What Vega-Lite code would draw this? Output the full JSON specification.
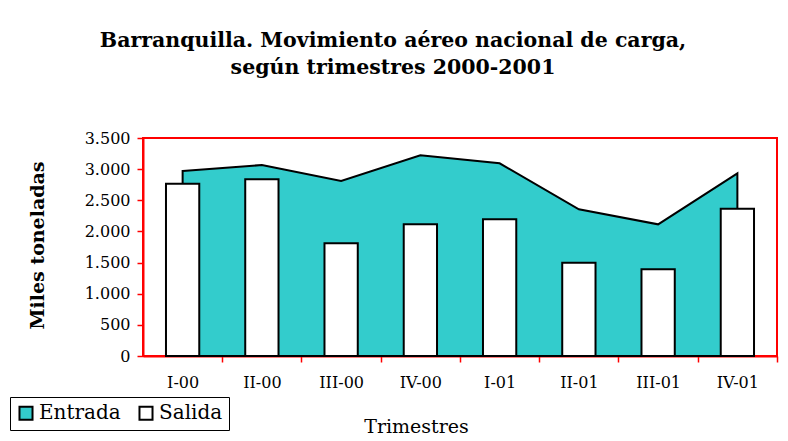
{
  "$schema": "https://vega.github.io/schema/vega-lite/v6.json",
  "autosize": {"type": "none"},
  "width": 634,
  "height": 218,
  "padding": {"left": 143, "top": 138, "right": 11, "bottom": 85},
  "background": "white",
  "title": {
    "text": ["Barranquilla. Movimiento aéreo nacional de carga,", "según trimestres 2000-2001"],
    "font": "DejaVu Serif",
    "fontSize": 20.5,
    "fontWeight": "bold",
    "color": "black",
    "lineHeight": 27,
    "anchor": "middle",
    "dx": -67,
    "offset": 52
  },
  "data": {
    "values": [
      {"trimestre": "I-00", "serie": "Entrada", "valor": 2970},
      {"trimestre": "II-00", "serie": "Entrada", "valor": 3066},
      {"trimestre": "III-00", "serie": "Entrada", "valor": 2810},
      {"trimestre": "IV-00", "serie": "Entrada", "valor": 3222},
      {"trimestre": "I-01", "serie": "Entrada", "valor": 3094},
      {"trimestre": "II-01", "serie": "Entrada", "valor": 2355},
      {"trimestre": "III-01", "serie": "Entrada", "valor": 2114},
      {"trimestre": "IV-01", "serie": "Entrada", "valor": 2933},
      {"trimestre": "I-00", "serie": "Salida", "valor": 2767},
      {"trimestre": "II-00", "serie": "Salida", "valor": 2837},
      {"trimestre": "III-00", "serie": "Salida", "valor": 1809},
      {"trimestre": "IV-00", "serie": "Salida", "valor": 2114},
      {"trimestre": "I-01", "serie": "Salida", "valor": 2194},
      {"trimestre": "II-01", "serie": "Salida", "valor": 1498},
      {"trimestre": "III-01", "serie": "Salida", "valor": 1391},
      {"trimestre": "IV-01", "serie": "Salida", "valor": 2365}
    ]
  },
  "encoding": {
    "x": {
      "field": "trimestre",
      "type": "nominal",
      "sort": null,
      "bandPosition": 0.5,
      "scale": {"paddingInner": 0.58, "paddingOuter": 0.29},
      "axis": {
        "title": "Trimestres",
        "titleFont": "DejaVu Serif",
        "titleFontSize": 19,
        "titleFontWeight": "normal",
        "titleColor": "black",
        "titleX": 273,
        "titleY": 76,
        "titleBaseline": "alphabetic",
        "titleAnchor": null,
        "labelAngle": 0,
        "labelFont": "DejaVu Serif",
        "labelFontSize": 16,
        "labelColor": "black",
        "labelPadding": 12,
        "labelOffset": -39.6,
        "domainColor": "red",
        "domainWidth": 2,
        "tickColor": "red",
        "tickWidth": 1.5,
        "tickSize": 6,
        "tickOffset": 39.6
      }
    },
    "y": {
      "field": "valor",
      "type": "quantitative",
      "scale": {"domain": [0, 3500], "nice": false},
      "axis": {
        "title": "Miles toneladas",
        "titleFont": "DejaVu Serif",
        "titleFontSize": 19,
        "titleFontWeight": "bold",
        "titleColor": "black",
        "titleX": -106,
        "titleY": 107,
        "titleAnchor": null,
        "titleBaseline": "middle",
        "values": [0, 500, 1000, 1500, 2000, 2500, 3000, 3500],
        "labelExpr": "replace(format(datum.value, ','), ',', '.')",
        "labelFont": "DejaVu Serif",
        "labelFontSize": 16,
        "labelColor": "black",
        "labelPadding": 7,
        "grid": false,
        "domainColor": "red",
        "domainWidth": 2,
        "tickColor": "red",
        "tickWidth": 1.5,
        "tickSize": 6
      }
    },
    "color": {
      "field": "serie",
      "type": "nominal",
      "scale": {"domain": ["Entrada", "Salida"], "range": ["#33CCCC", "#FFFFFF"]},
      "legend": {
        "title": null,
        "orient": "none",
        "legendX": -133,
        "legendY": 259,
        "direction": "horizontal",
        "strokeColor": "black",
        "fillColor": "white",
        "padding": 6,
        "columnPadding": 14,
        "symbolType": "square",
        "symbolSize": 170,
        "symbolStrokeColor": "black",
        "symbolStrokeWidth": 2,
        "labelFont": "DejaVu Serif",
        "labelFontSize": 20,
        "labelColor": "black",
        "labelOffset": 3
      }
    }
  },
  "layer": [
    {
      "transform": [{"filter": "datum.serie === 'Entrada'"}],
      "mark": {"type": "area", "stroke": "black", "strokeWidth": 2, "opacity": 1}
    },
    {
      "transform": [{"filter": "datum.serie === 'Salida'"}],
      "mark": {"type": "bar", "stroke": "black", "strokeWidth": 2, "opacity": 1}
    }
  ],
  "config": {
    "view": {"stroke": "red", "strokeWidth": 2}
  }
}
